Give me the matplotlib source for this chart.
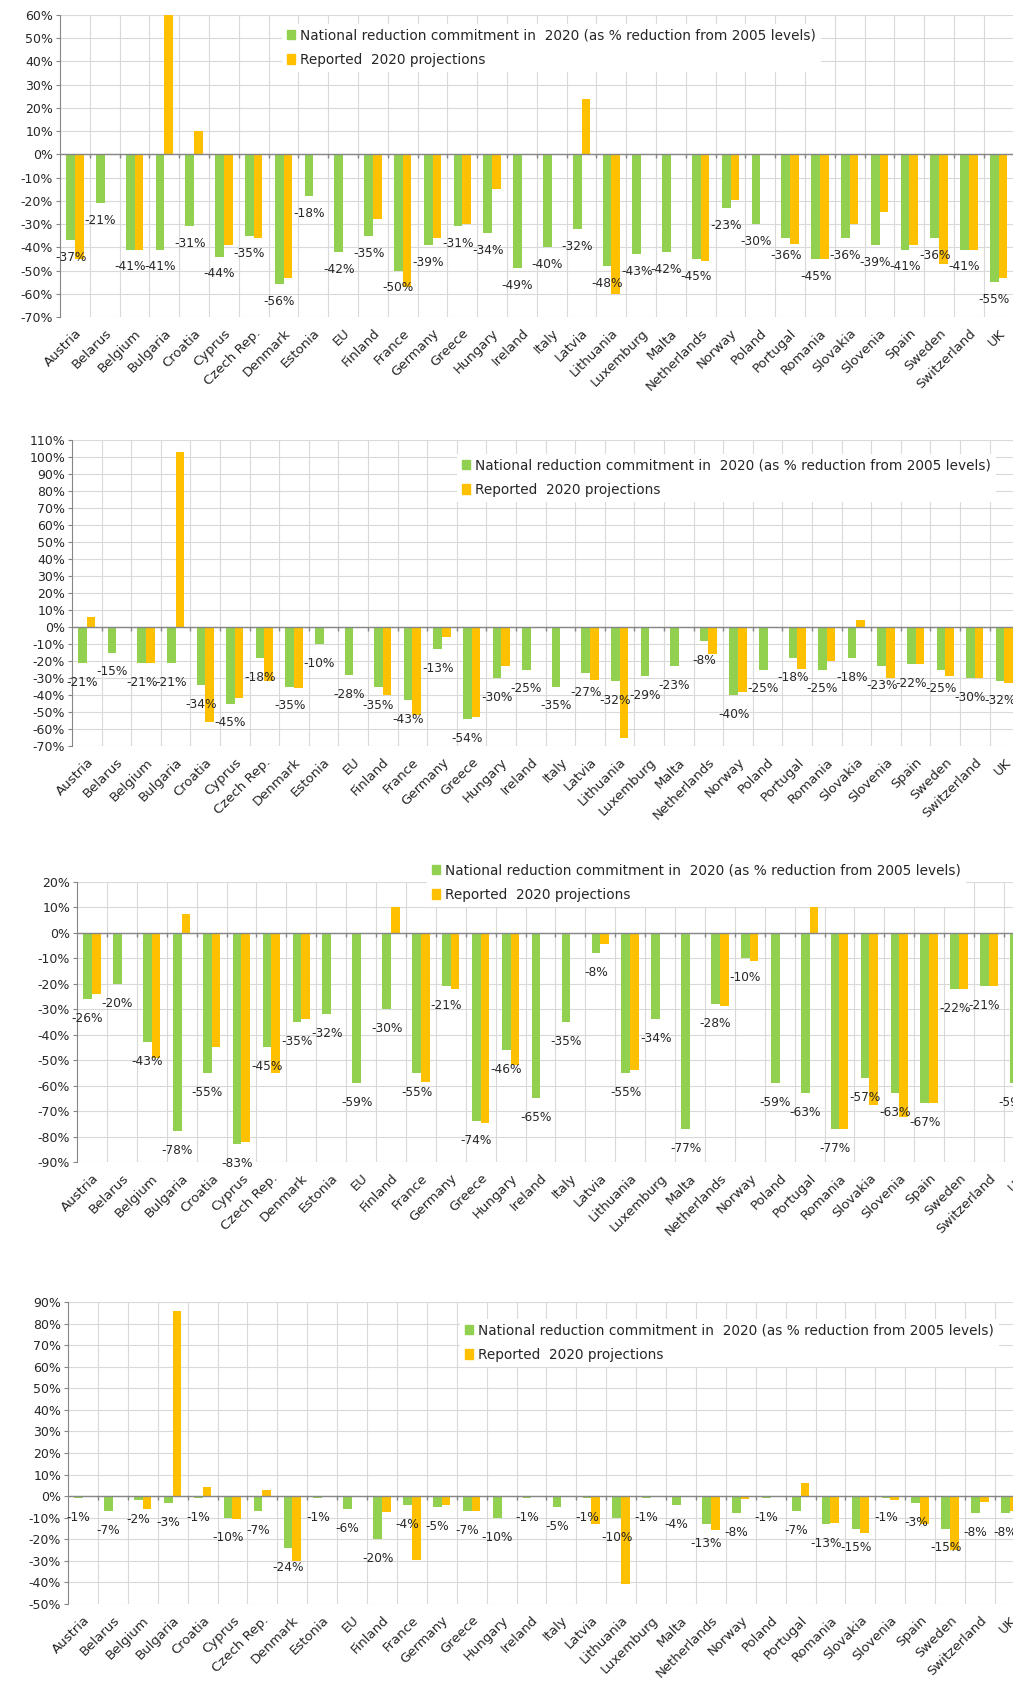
import numpy as np
import matplotlib
matplotlib.use('Agg')
import matplotlib.pyplot as plt
from matplotlib.patches import Patch

nan = np.nan

countries = ['Austria', 'Belarus', 'Belgium', 'Bulgaria', 'Croatia', 'Cyprus', 'Czech Rep.',
             'Denmark', 'Estonia', 'EU', 'Finland', 'France', 'Germany', 'Greece', 'Hungary',
             'Ireland', 'Italy', 'Latvia', 'Lithuania', 'Luxemburg', 'Malta', 'Netherlands',
             'Norway', 'Poland', 'Portugal', 'Romania', 'Slovakia', 'Slovenia', 'Spain',
             'Sweden', 'Switzerland', 'UK']

# panel 1
p1_commit = [-37, -21, -41, -41, -31, -44, -35, -56, -18, -42, -35, -50, -39, -31, -34, -49,
             -40, -32, -48, -43, -42, -45, -23, -30, -36, -45, -36, -39, -41, -36, -41, -55]
p1_proj = [-45, nan, -41, 75, 10, -39, -36, -53, nan, nan, -28, -57, -36, -30, -15, nan,
           nan, 24, -60, nan, nan, -46, -19.5, nan, -38.5, -45, -30, -25, -39, -47, -41, -53]

# panel 2
p2_commit = [-21, -15, -21, -21, -34, -45, -18, -35, -10, -28, -35, -43, -13, -54, -30, -25,
             -35, -27, -32, -29, -23, -8, -40, -25, -18, -25, -18, -23, -22, -25, -30, -32]
p2_proj = [6, nan, -21, 103, -56, -41.6, -32, -36, nan, nan, -40, -52, -6, -53, -23, nan,
           nan, -31, -65, nan, nan, -16, -38, nan, -24.5, -20, 4, -30, -21.5, -29, -30, -33]

# panel 3
p3_commit = [-26, -20, -43, -78, -55, -83, -45, -35, -32, -59, -30, -55, -21, -74, -46, -65,
             -35, -8, -55, -34, -77, -28, -10, -59, -63, -77, -57, -63, -67, -22, -21, -59]
p3_proj = [-24, nan, -49, 7.6, -44.7, -82, -55, -33.7, nan, nan, 10, -58.4, -22.2, -74.8, -52, nan,
           nan, -4.3, -54, nan, nan, -28.8, -11, nan, 10, -77, -67.7, -72.5, -67, -22, -21, nan]

# panel 4
p4_commit = [-1, -7, -2, -3, -1, -10, -7, -24, -1, -6, -20, -4, -5, -7, -10, -1,
             -5, -1, -10, -1, -4, -13, -8, -1, -7, -13, -15, -1, -3, -15, -8, -8]
p4_proj = [-0.6, nan, -5.9, 86, 4.2, -10.8, 2.9, -30, nan, nan, -7.4, -29.6, -4, -6.7, nan, nan,
           nan, -12.8, -40.7, nan, nan, -15.5, -1.2, nan, 6, -12.4, -17, -1.7, -12.8, -24.8, -2.8, -7.1]

legend_labels = ['National reduction commitment in  2020 (as % reduction from 2005 levels)',
                 'Reported  2020 projections']

GREEN = '#92D050'
ORANGE = '#FFC000'
TXT = '#262626'
W, H = 1013, 1686

fig = plt.figure(figsize=(W / 100, H / 100), dpi=100)


def draw_panel(commit, proj, ylo, yhi, left, top, bottom, cw, leg_xy, lab_off):
    ax = fig.add_axes([left / W, 1 - bottom / H, len(countries) * cw / W, (bottom - top) / H])
    x = np.arange(len(countries))
    bw = 0.29
    ax.bar(x - bw / 2, commit, bw, color=GREEN, zorder=3)
    ax.bar(x + bw / 2, proj, bw, color=ORANGE, zorder=3)
    for xi, v in zip(x, commit):
        ax.annotate(f'{v}%', (xi - bw / 2, v), xytext=(0, -lab_off), textcoords='offset points',
                    ha='center', va='center', fontsize=8.7, color=TXT, zorder=5)
    ax.set_xlim(-0.5, len(countries) - 0.5)
    ax.set_ylim(ylo, yhi)
    ticks = list(range(ylo, yhi + 1, 10))
    ax.set_yticks(ticks)
    ax.set_yticklabels([f'{t}%' for t in ticks], fontsize=9, color=TXT)
    ax.set_xticks(x)
    ax.set_xticklabels(countries, rotation=45, ha='right', rotation_mode='anchor',
                       fontsize=9.5, color=TXT)
    ax.set_xticks(x + 0.5, minor=True)
    ax.tick_params(axis='x', which='both', length=0, pad=7)
    ax.tick_params(axis='y', length=3, color='#868686', pad=2)
    ax.grid(axis='x', which='minor', color='#D9D9D9', lw=0.8, zorder=0)
    ax.grid(axis='y', which='major', color='#D9D9D9', lw=0.8, zorder=0)
    ax.axhline(0, color='#868686', lw=1, zorder=4)
    # small tick marks on the zero axis between categories
    ax.plot(x[:-1] + 0.5, np.zeros(len(x) - 1), ls='none', marker=3, markersize=3,
            color='#868686', zorder=4)
    for s in ['top', 'right', 'bottom']:
        ax.spines[s].set_visible(False)
    ax.spines['left'].set_color('#868686')
    handles = [Patch(color=GREEN), Patch(color=ORANGE)]
    leg = ax.legend(handles, legend_labels, loc='upper left',
                    bbox_to_anchor=(leg_xy[0] / W, 1 - leg_xy[1] / H),
                    bbox_transform=fig.transFigure, frameon=True, fancybox=False,
                    edgecolor='none', facecolor='white', framealpha=1,
                    handlelength=0.65, handleheight=0.65, handletextpad=0.35,
                    labelspacing=0.75, fontsize=9.8, borderpad=0.35)
    leg.set_zorder(6)
    for t in leg.get_texts():
        t.set_color(TXT)
    return ax


draw_panel(p1_commit, p1_proj, -70, 60, 60, 15, 317, 29.8, (275, 17), 12.5)
draw_panel(p2_commit, p2_proj, -70, 110, 72, 440, 746, 29.6, (450, 447), 14)
draw_panel(p3_commit, p3_proj, -90, 20, 77, 882, 1162, 29.9, (420, 852), 14)
draw_panel(p4_commit, p4_proj, -50, 90, 68, 1302, 1604, 29.9, (453, 1312), 14)

fig.savefig('out.png', dpi=100, facecolor='white')
